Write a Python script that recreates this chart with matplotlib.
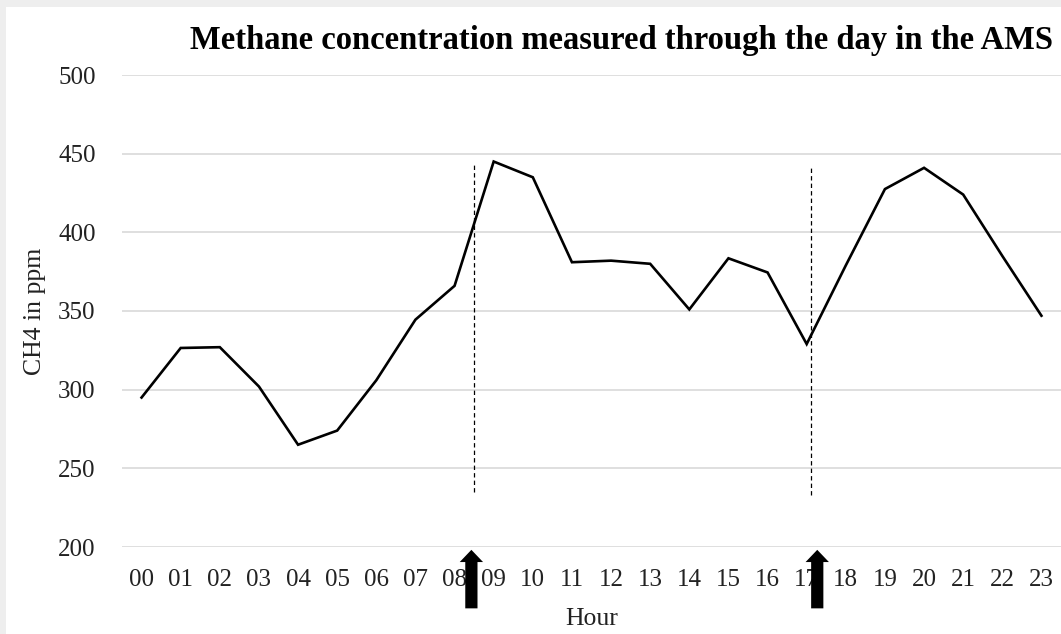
import numpy as np
import matplotlib
matplotlib.use("Agg")
import matplotlib.pyplot as plt
import matplotlib.patches as patches
import matplotlib.transforms as mtransforms

# --- data ---
hours = ["00", "01", "02", "03", "04", "05", "06", "07", "08", "09", "10", "11",
         "12", "13", "14", "15", "16", "17", "18", "19", "20", "21", "22", "23"]
ch4 = [295, 326.5, 327, 302, 265, 274, 306, 344.5, 366, 445, 435, 381,
       382, 380, 351, 383.5, 374.5, 329, 379, 427.5, 441, 424, 385, 347]

# rush-hour markers (dashed lines + arrows)
marker_x = [8.5, 17.1]
marker_top = [444, 441]
marker_bottom = [235, 233]
arrow_x = [8.43, 17.27]

plt.rcParams["font.family"] = ["Liberation Serif", "DejaVu Serif"]

fig = plt.figure(figsize=(10.61, 6.34), dpi=100, facecolor="#eeeeee")
# white card on grey page
fig.patches.append(patches.Rectangle((6 / 1061, 0), 1, 1 - 7 / 634,
                                     transform=fig.transFigure,
                                     facecolor="white", edgecolor="none", zorder=-5))

ax = fig.add_axes([122 / 1061, 87 / 634, 939 / 1061, 472 / 634])
ax.set_facecolor("white")

x = np.arange(len(hours))
ax.plot(x, ch4, color="black", lw=1.9, zorder=3, solid_joinstyle="miter")

for mx, top, bot in zip(marker_x, marker_top, marker_bottom):
    ax.plot([mx, mx], [bot, top], color="black", lw=0.9, ls=(0, (3.5, 2.5)), zorder=2)

trans = mtransforms.blended_transform_factory(ax.transData, ax.transAxes)
for axx in arrow_x:
    ax.annotate("", xy=(axx, -0.006), xytext=(axx, -0.13),
                xycoords=trans, textcoords=trans, annotation_clip=False,
                arrowprops=dict(arrowstyle="simple,head_length=0.55,head_width=1.05,tail_width=0.55",
                                mutation_scale=16, fc="black", ec="black", lw=0,
                                shrinkA=0, shrinkB=0))

ax.set_xlim(-0.5, 23.5)
ax.set_ylim(200, 500)
ax.set_yticks([200, 250, 300, 350, 400, 450, 500])
ax.set_xticks(x)
ax.set_xticklabels(hours)
ax.grid(axis="y", color="#d9d9d9", lw=1.2)
ax.set_axisbelow(True)
for s in ax.spines.values():
    s.set_visible(False)
ax.tick_params(axis="both", length=0, labelsize=18, colors="#222222")
ax.tick_params(axis="y", pad=19)
ax.tick_params(axis="x", pad=16)

ax.set_xlabel("Hour", fontsize=18.5, color="#222222", labelpad=12)
ax.set_ylabel("CH4 in ppm", fontsize=18.5, color="#222222", labelpad=9)

fig.text(622 / 1061, 1 - 40 / 634, "Methane concentration measured through the day in the AMS",
         ha="center", va="center", fontsize=23.5, fontweight="bold", color="black")

fig.savefig("out.png", dpi=100, facecolor=fig.get_facecolor())
